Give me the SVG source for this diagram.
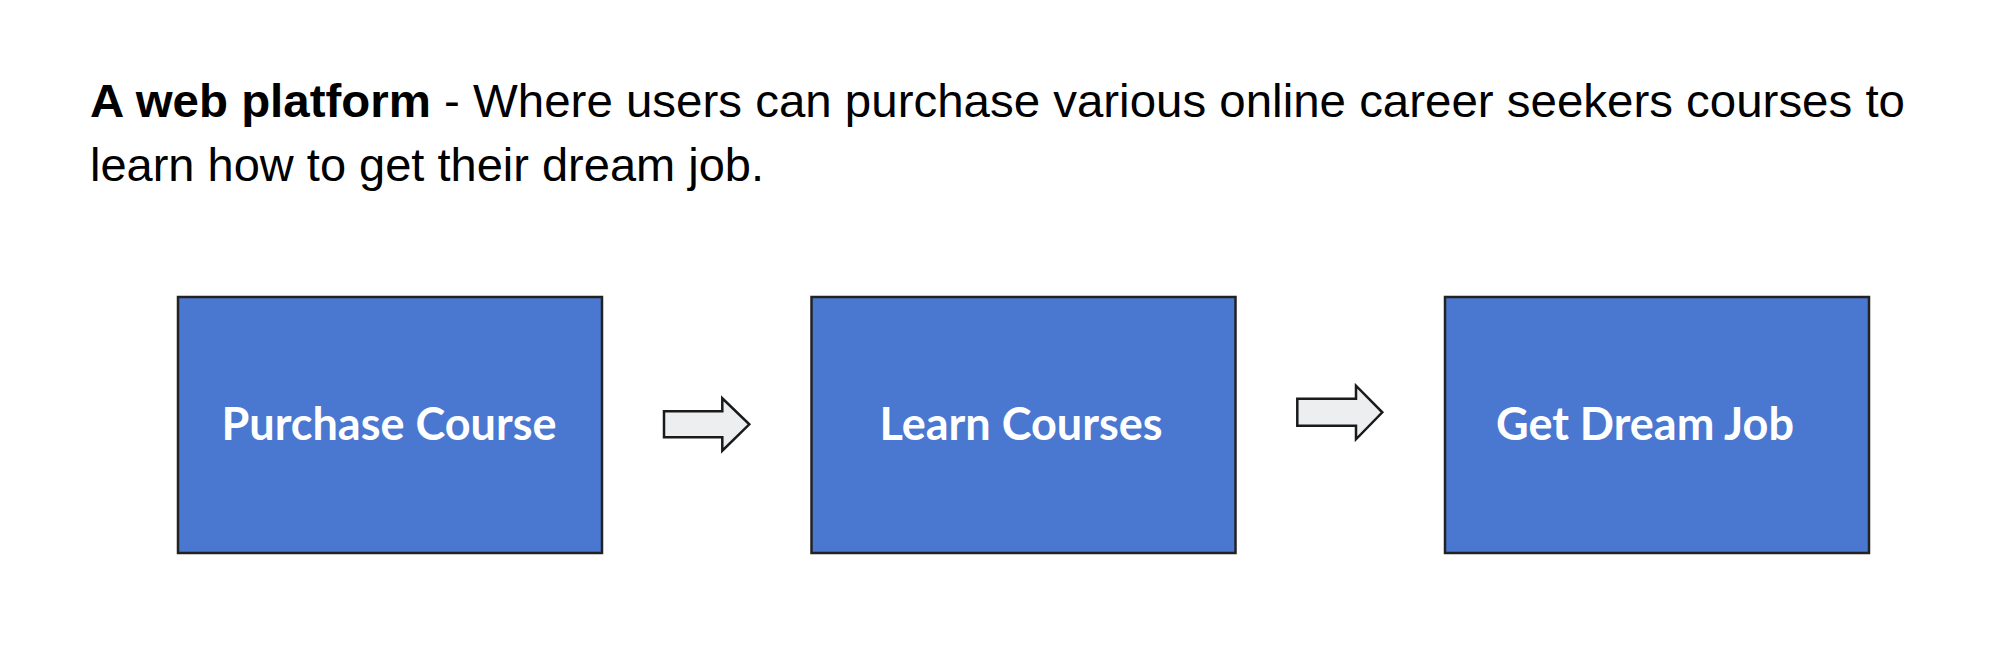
<svg xmlns="http://www.w3.org/2000/svg" width="1996" height="672" viewBox="0 0 1996 672">
<style>
.hd{font-family:"Liberation Sans",Arial,sans-serif;font-size:46px;fill:#000}
.box{fill:#4a78d1;stroke:#222;stroke-width:2.5}
.lbl{font-family:Lato,"Liberation Sans",sans-serif;font-weight:bold;font-size:45px;fill:#fff;text-anchor:middle}
.arr{fill:#eceeef;stroke:#1a1a1a;stroke-width:2.5;stroke-linejoin:miter}
</style>
<rect width="1996" height="672" fill="#fff"/>
<g id="heading">
<text class="hd" x="90" y="117" textLength="1815" lengthAdjust="spacingAndGlyphs"><tspan font-weight="bold">A web platform</tspan> - Where users can purchase various online career seekers courses to</text>
<text class="hd" x="90" y="181" textLength="674" lengthAdjust="spacingAndGlyphs">learn how to get their dream job.</text>
</g>
<g id="node-purchase">
<rect class="box" x="178" y="297" width="424" height="256"/>
<text class="lbl" x="389" y="440">Purchase Course</text>
</g>
<g id="node-learn">
<rect class="box" x="811.5" y="297" width="424" height="256"/>
<text class="lbl" x="1021" y="440">Learn Courses</text>
</g>
<g id="node-job">
<rect class="box" x="1445" y="297" width="424" height="256"/>
<text class="lbl" x="1645" y="440">Get Dream Job</text>
</g>
<g id="connectors">
<polygon class="arr" points="664,411.3 722.3,411.3 722.3,398.3 749.3,424.3 722.3,450.7 722.3,437.3 664,437.3"/>
<polygon class="arr" points="1297.3,398.7 1356,398.7 1356,385.7 1382.3,412.3 1356,439.3 1356,425.7 1297.3,425.7"/>
</g>
</svg>
